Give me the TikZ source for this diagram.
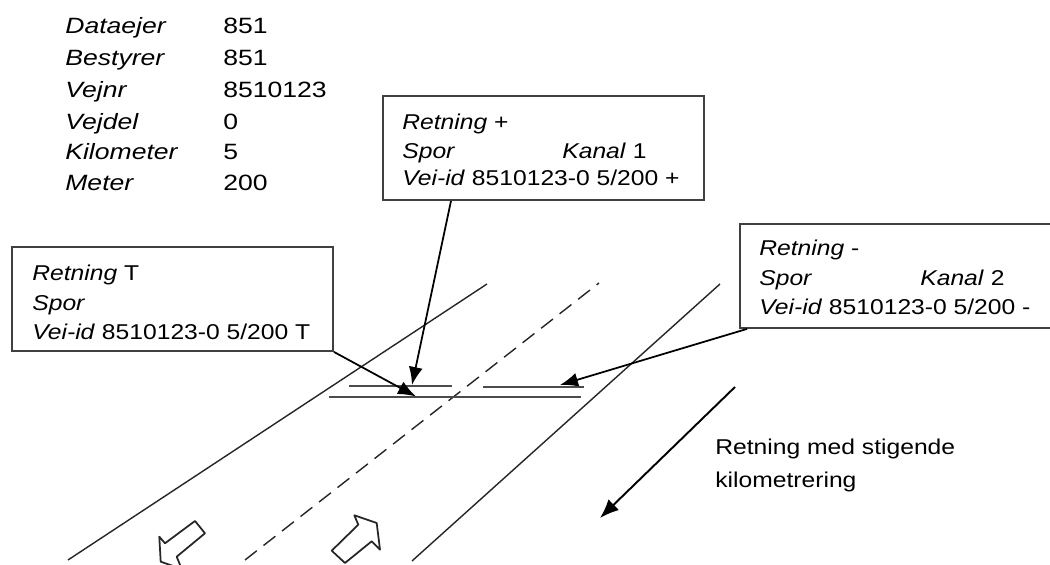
\documentclass[tikz,border=0pt]{standalone}
\usepackage{fontspec}
\setmainfont[FakeStretch=1.15]{Liberation Sans}
\newfontfamily\listfont[FakeStretch=1.2]{Liberation Sans}
\usetikzlibrary{arrows.meta}
\usepackage{xcolor}

\begin{document}
\begin{tikzpicture}[
  txt/.style={anchor=base west, inner sep=0pt, text=black, font=\fontsize{12.2}{14}\selectfont},
  listtxt/.style={anchor=base west, inner sep=0pt, text=black, font=\listfont\fontsize{12.6}{14}\selectfont},
  infobox/.style={draw=black!75, line width=1.1pt, minimum width=6.42cm, minimum height=2.08cm, anchor=north west, inner sep=0pt},
  roadline/.style={black!85, line width=0.8pt},
  markline/.style={black!70, line width=1.1pt},
  pointer/.style={black, line width=1pt, -{Latex[length=3.6mm,width=2.8mm]}},
  hollowarrow/.style={draw=black!85, line width=1pt, line join=round}]
\useasboundingbox (0,0) rectangle (21,11.3);
\clip (0,0) rectangle (21,11.3);

% data for the point
\node[listtxt] (ejer) at (1.3,10.633) {\textit{Dataejer}};
\node[listtxt] (ejerval) at (4.46,10.633) {851};
\node[listtxt] (best) at (1.3,9.986) {\textit{Bestyrer}};
\node[listtxt] (bestval) at (4.46,9.986) {851};
\node[listtxt] (vejnr) at (1.3,9.346) {\textit{Vejnr}};
\node[listtxt] (vejnrval) at (4.46,9.346) {8510123};
\node[listtxt] (vejdel) at (1.3,8.714) {\textit{Vejdel}};
\node[listtxt] (vejdelval) at (4.46,8.714) {0};
\node[listtxt] (km) at (1.3,8.114) {\textit{Kilometer}};
\node[listtxt] (kmval) at (4.46,8.114) {5};
\node[listtxt] (meter) at (1.3,7.486) {\textit{Meter}};
\node[listtxt] (meterval) at (4.46,7.486) {200};

% road
\coordinate (leftlow) at (1.36,0.1);
\coordinate (lefthigh) at (9.74,5.62);
\coordinate (midlow) at (4.9,0.1);
\coordinate (midhigh) at (11.98,5.64);
\coordinate (rightlow) at (8.24,0.08);
\coordinate (righthigh) at (14.4,5.62);
\draw[roadline] (leftlow) -- (lefthigh);
\draw[roadline, dash pattern=on 0.3cm off 0.17cm] (midlow) -- (midhigh);
\draw[roadline] (rightlow) -- (righthigh);

% stations
\draw[markline] (6.98,3.58) -- (9.04,3.58);
\draw[markline] (6.58,3.36) -- (11.62,3.36);
\draw[markline] (9.66,3.56) -- (11.68,3.56);
\coordinate (plustip) at (8.24,3.6);
\coordinate (ttip) at (8.32,3.37);
\coordinate (minustip) at (11.2,3.6);

% boxes
\node[infobox] (plusbox) at (7.64,9.4) {};
\node[txt] (plusdir) at (8.04,8.714) {\textit{Retning} +};
\node[txt] (plusspor) at (8.04,8.134) {\textit{Spor}};
\node[txt] (pluskanal) at (11.24,8.134) {\textit{Kanal} 1};
\node[txt] (plusid) at (8.04,7.58) {\textit{Vei-id} 8510123-0 5/200 +};

\node[infobox] (tbox) at (0.22,6.38) {};
\node[txt] (tdir) at (0.64,5.686) {\textit{Retning} T};
\node[txt] (tspor) at (0.64,5.08) {\textit{Spor}};
\node[txt] (tid) at (0.64,4.5) {\textit{Vei-id} 8510123-0 5/200 T};

\node[infobox, minimum width=6.8cm] (minusbox) at (14.78,6.84) {};
\node[txt] (minusdir) at (15.18,6.186) {\textit{Retning} -};
\node[txt] (minusspor) at (15.18,5.58) {\textit{Spor}};
\node[txt] (minuskanal) at (18.4,5.58) {\textit{Kanal} 2};
\node[txt] (minusid) at (15.18,5.0) {\textit{Vei-id} 8510123-0 5/200 -};

\draw[pointer] ([xshift=1.38cm]plusbox.south west) -- (plustip);
\draw[pointer] (tbox.south east) -- (ttip);
\draw[pointer] ([xshift=0.16cm]minusbox.south west) -- (minustip);

% direction
\coordinate (dirstart) at (14.7,3.56);
\coordinate (dirend) at (12.0,0.94);
\draw[pointer, line width=1.1pt, -{Latex[length=3.8mm,width=3mm]}] (dirstart) -- (dirend);
\node[txt] (dirtxt1) at (14.3,2.2) {Retning med stigende};
\node[txt] (dirtxt2) at (14.3,1.54) {kilometrering};

% lane arrows
\draw[hollowarrow] (6.634,0.286) -- (6.90,0.04) -- (7.434,0.474) -- (7.60,0.306) -- (7.534,0.84) -- (7.086,0.994) -- (7.166,0.806) -- cycle;
\draw[hollowarrow] (3.90,0.88) -- (4.10,0.634) -- (3.534,0.166) -- (3.634,-0.08) -- (3.214,0.066) -- (3.186,0.566) -- (3.30,0.434) -- cycle;
\end{tikzpicture}
\end{document}
